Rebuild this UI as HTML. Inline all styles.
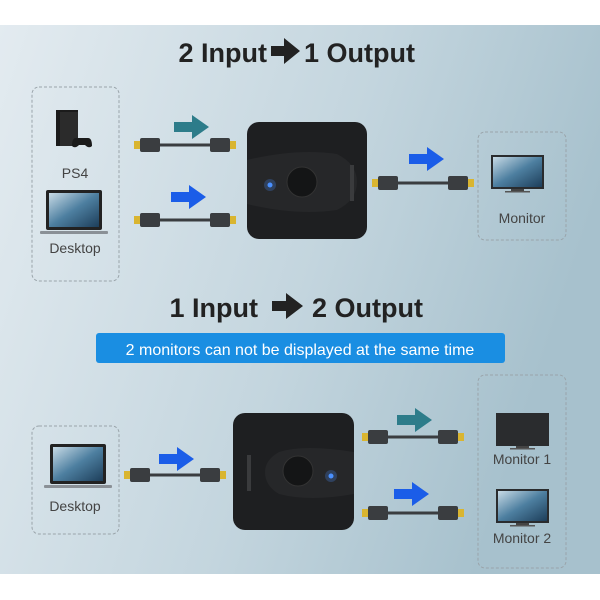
<!DOCTYPE html>
<html><head><meta charset="utf-8"><style>
html,body{margin:0;padding:0;background:#fff}
svg{display:block}
text{font-family:"Liberation Sans",sans-serif}
</style></head><body>
<svg width="600" height="600" viewBox="0 0 600 600" xmlns="http://www.w3.org/2000/svg">
<defs>
<linearGradient id="bg" x1="0" y1="0" x2="1" y2="0.3">
<stop offset="0" stop-color="#e3ebf0"/><stop offset="0.6" stop-color="#c3d5de"/><stop offset="1" stop-color="#a7c1cd"/>
</linearGradient>
<linearGradient id="scr" x1="0" y1="0" x2="1" y2="1">
<stop offset="0" stop-color="#c8dbe6"/><stop offset="0.5" stop-color="#4d7fa0"/><stop offset="1" stop-color="#1d3e5a"/>
</linearGradient>
<g id="cable">
<rect x="0" y="-4" width="6" height="8" fill="#d9b530"/>
<rect x="6" y="-7" width="20" height="14" rx="2" fill="#3a3d40"/>
<rect x="26" y="-1.5" width="50" height="3" fill="#3a3d40"/>
<rect x="76" y="-7" width="20" height="14" rx="2" fill="#3a3d40"/>
<rect x="96" y="-4" width="6" height="8" fill="#d9b530"/>
</g>
<path id="arr" d="M0,7 H18 V0 L35,12 L18,24 V17 H0 Z"/>
<g id="laptop">
<rect x="6" y="0" width="56" height="40" rx="2" fill="#222"/>
<rect x="9" y="3" width="50" height="34" fill="url(#scr)"/>
<rect x="0" y="41" width="68" height="3" rx="1" fill="#8a9096"/>
</g>
<g id="mon">
<rect x="0" y="0" width="53" height="34" fill="#2a2c2e"/>
<rect x="2" y="2" width="49" height="30" fill="url(#scr)"/>
<rect x="20" y="34" width="13" height="2" fill="#444"/>
<rect x="14" y="36" width="25" height="1.5" fill="#555"/>
</g>
</defs>
<rect x="0" y="25" width="600" height="549" fill="url(#bg)"/>

<!-- Section 1 -->
<text x="267" y="62" font-size="27" font-weight="bold" fill="#222" text-anchor="end">2 Input</text>
<path d="M271,46 h13 v-8 l16,13 l-16,13 v-8 h-13 z" fill="#222"/>
<text x="304" y="62" font-size="27" font-weight="bold" fill="#222">1 Output</text>
<rect x="32" y="87" width="87" height="194" rx="7" fill="none" stroke="#9aa4aa" stroke-dasharray="3,2"/>
<rect x="56" y="110" width="22" height="36" fill="#1b1b1b"/>
<rect x="60" y="112" width="18" height="34" fill="#2b2b2b"/>
<path d="M76,138 q-4,0 -4,8 q3,3 7,-1 h6 q4,4 7,1 q0,-8 -4,-8 z" fill="#1b1b1b"/>
<text x="75" y="178" font-size="14" fill="#444" text-anchor="middle">PS4</text>
<use href="#laptop" x="40" y="190"/>
<text x="75" y="253" font-size="14" fill="#444" text-anchor="middle">Desktop</text>
<use href="#cable" x="134" y="145"/>
<use href="#cable" x="134" y="220"/>
<use href="#arr" x="174" y="115" fill="#2d7c8a"/>
<use href="#arr" x="171" y="185" fill="#1b5de8"/>
<rect x="247" y="122" width="120" height="117" rx="12" fill="#1e1f21"/>
<path d="M247,160 q50,-12 90,-6 q20,10 20,28 q0,18 -20,28 q-40,6 -90,-6 z" fill="#262729"/>
<circle cx="302" cy="182" r="15" fill="#141516" stroke="#333" />
<circle cx="270" cy="185" r="2.5" fill="#4a90ff"/>
<circle cx="270" cy="185" r="6" fill="#4a90ff" opacity="0.25"/>
<rect x="350" y="165" width="4" height="36" fill="#3a3b3d"/>
<use href="#cable" x="372" y="183"/>
<use href="#arr" x="409" y="147" fill="#1b5de8"/>
<rect x="478" y="132" width="88" height="108" rx="7" fill="none" stroke="#9aa4aa" stroke-dasharray="3,2"/>
<use href="#mon" x="491" y="155"/>
<text x="522" y="223" font-size="14" fill="#444" text-anchor="middle">Monitor</text>

<!-- Section 2 -->
<text x="258" y="317" font-size="27" font-weight="bold" fill="#222" text-anchor="end">1 Input</text>
<path d="M272,301 h14 v-8 l17,13 l-17,13 v-8 h-14 z" fill="#222"/>
<text x="312" y="317" font-size="27" font-weight="bold" fill="#222">2 Output</text>
<rect x="96" y="333" width="409" height="30" rx="3" fill="#1a8ee2"/>
<text x="300" y="355" font-size="16" fill="#fff" text-anchor="middle">2 monitors can not be displayed at the same time</text>
<rect x="32" y="426" width="87" height="108" rx="7" fill="none" stroke="#9aa4aa" stroke-dasharray="3,2"/>
<use href="#laptop" x="44" y="444"/>
<text x="75" y="511" font-size="14" fill="#444" text-anchor="middle">Desktop</text>
<use href="#cable" x="124" y="475"/>
<use href="#arr" x="159" y="447" fill="#1b5de8"/>
<rect x="233" y="413" width="121" height="117" rx="12" fill="#1e1f21"/>
<path d="M354,452 q-50,-8 -75,0 q-14,8 -14,20 q0,14 14,22 q30,8 75,0 z" fill="#262729"/>
<circle cx="298" cy="471" r="15" fill="#141516" stroke="#333"/>
<circle cx="331" cy="476" r="2.5" fill="#4a90ff"/>
<circle cx="331" cy="476" r="6" fill="#4a90ff" opacity="0.25"/>
<rect x="247" y="455" width="4" height="36" fill="#3a3b3d"/>
<use href="#cable" x="362" y="437"/>
<use href="#cable" x="362" y="513"/>
<use href="#arr" x="397" y="408" fill="#2d7c8a"/>
<use href="#arr" x="394" y="482" fill="#1b5de8"/>
<rect x="478" y="375" width="88" height="193" rx="7" fill="none" stroke="#9aa4aa" stroke-dasharray="3,2"/>
<rect x="496" y="413" width="53" height="33" fill="#2a2c2e"/>
<rect x="516" y="446" width="13" height="2" fill="#444"/><rect x="510" y="448" width="25" height="1.5" fill="#555"/>
<text x="522" y="464" font-size="14" fill="#444" text-anchor="middle">Monitor 1</text>
<use href="#mon" x="496" y="489"/>
<text x="522" y="543" font-size="14" fill="#444" text-anchor="middle">Monitor 2</text>
</svg>
</body></html>
